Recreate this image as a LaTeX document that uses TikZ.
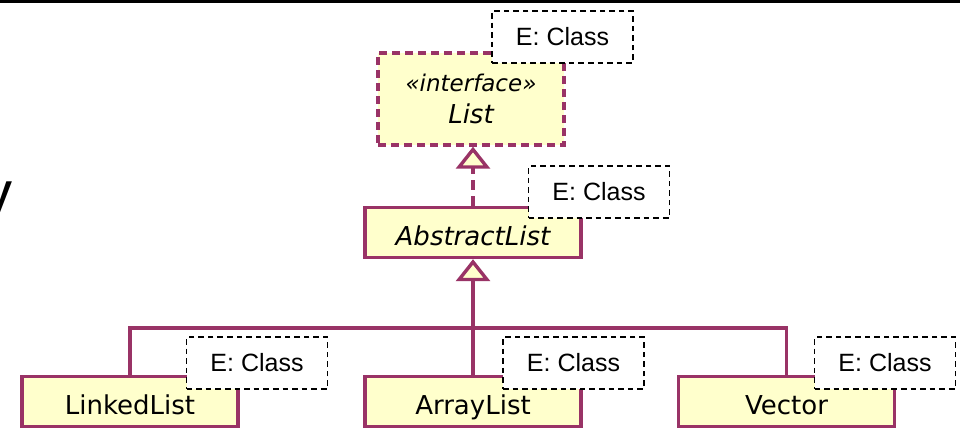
\documentclass[tikz,border=0pt]{standalone}
\usepackage{fontspec}
\usepackage{tikz}
\usetikzlibrary{arrows.meta}

\newfontfamily\umlfont{DejaVu Sans}
\newfontfamily\notefont{Liberation Sans}

\definecolor{umlborder}{HTML}{993366}
\definecolor{umlfill}{HTML}{FFFFCC}

\begin{document}
\begin{tikzpicture}[x=0.5pt, y=-0.5pt,
    basebox/.style={rectangle, draw=umlborder, fill=umlfill, line width=1.7pt,
      inner sep=0pt, font=\umlfont\fontsize{13}{15}\selectfont},
    classbox/.style={basebox, minimum width=108pt, minimum height=25pt,
      text height=16pt, text depth=3pt},
    ifacebox/.style={basebox, dash pattern=on 4pt off 2.5pt, align=center,
      minimum width=93pt, minimum height=46pt},
    notebox/.style={rectangle, draw=black, fill=white, line width=0.9pt,
      dash pattern=on 2.8pt off 2pt, inner sep=0pt, minimum width=70.5pt,
      minimum height=26pt, font=\notefont\fontsize{12.5}{15}\selectfont},
    link/.style={draw=umlborder, line width=1.7pt},
    gen/.style={link, -{Triangle[length=11pt, width=17pt, fill=umlfill]}}]
            \useasboundingbox (0,0) rectangle (960,428);

            % Rule and title
            \draw[line width=1.6pt] (0,1.6) -- (960,1.6);
            \node[anchor=base west, inner sep=0pt, font=\notefont\fontsize{30}{36}\selectfont] (ttl) at (-18,213) {y};

            % Nodes
            \node[ifacebox] (lst) at (471,99)
              {{\fontsize{11.5}{13}\selectfont\itshape «interface»}\\[1pt]\itshape List};
            \node[classbox, font=\umlfont\itshape\fontsize{13}{15}\selectfont] (abs) at (473,232.5) {AbstractList};
            \node[classbox] (ll) at (130,401.5) {LinkedList};
            \node[classbox] (al) at (473,401.5) {ArrayList};
            \node[classbox] (vec) at (786.5,401.5) {Vector};
            \coordinate (bus) at (473,328);

            % Edges
            \draw[gen, dash pattern=on 5pt off 3pt] (abs.north) -- (abs.north |- lst.south);
            \draw[link] (ll.north) |- (bus) -| (vec.north);
            \draw[link] (al.north) -- (bus);
            \draw[gen] (bus) -- (abs.south);

            % Type parameters
            \node[notebox] (e1) at (562.5,37) {E: Class};
            \node[notebox] (e2) at (599,192) {E: Class};
            \node[notebox] (e3) at (257,363) {E: Class};
            \node[notebox] (e4) at (573.5,363) {E: Class};
            \node[notebox] (e5) at (885,363) {E: Class};
        \end{tikzpicture}
\end{document}
